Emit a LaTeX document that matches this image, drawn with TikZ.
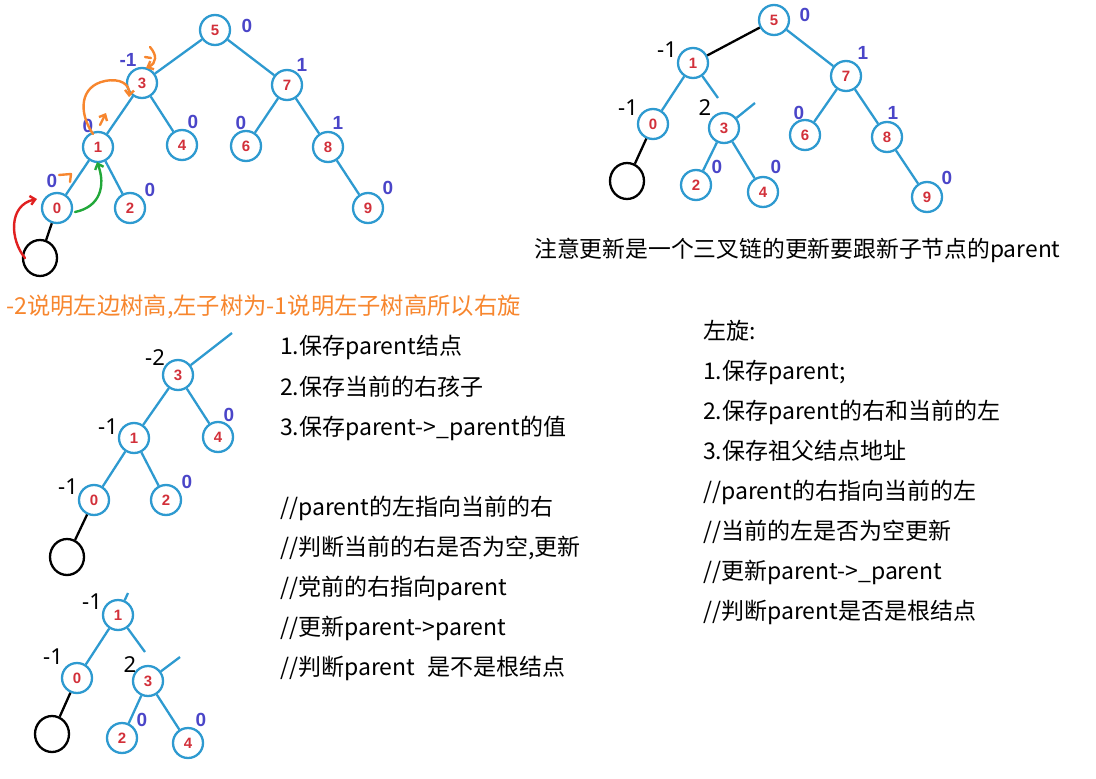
\documentclass[tikz,border=0pt]{standalone}
\usepackage{fontspec}
\newfontfamily\cjk{Noto Sans CJK SC}
\newfontfamily\numf{Liberation Sans}
\newfontfamily\lblf{Noto Sans}
\usetikzlibrary{arrows.meta,shapes.geometric}
\definecolor{nodeblue}{HTML}{2E9AD0}
\definecolor{numred}{HTML}{D2303A}
\definecolor{balblue}{HTML}{4A45C8}
\definecolor{anno}{HTML}{F7862E}
\definecolor{grn}{HTML}{22A83A}
\definecolor{rd}{HTML}{E02020}
\begin{document}
\begin{tikzpicture}[x=1pt,y=-1pt,
  tn/.style={circle,draw=nodeblue,line width=2.3pt,minimum size=30pt,inner sep=0pt,
    font=\numf\bfseries\fontsize{15}{15}\selectfont,text=numred},
  bal/.style={font=\numf\bfseries\fontsize{19}{19}\selectfont,text=balblue,inner sep=0pt},
  blk/.style={font=\lblf\fontsize{22}{22}\selectfont,inner sep=0pt},
  tedge/.style={draw=nodeblue,line width=2.3pt},
  bedge/.style={draw=black,line width=2.3pt},
  nil/.style={ellipse,draw=black,line width=2.3pt,minimum width=34pt,minimum height=36pt,inner sep=0pt},
  txt/.style={anchor=base west,inner sep=0pt,font=\cjk\fontsize{23}{23}\selectfont},
  hand/.style={line width=2.4pt,line cap=round,line join=round,-{Straight Barb[length=5pt,width=9pt]}}
]
\useasboundingbox (0,0) rectangle (1096,779);

% ---------- top-left tree ----------
\node[tn] (a5) at (215,30) {5};
\node[tn] (a3) at (142,83) {3};
\node[tn] (a7) at (287,85) {7};
\node[tn] (a1) at (98,147) {1};
\node[tn] (a4) at (182,145) {4};
\node[tn] (a6) at (246,146) {6};
\node[tn] (a8) at (328,147) {8};
\node[tn] (a0) at (57,208) {0};
\node[tn] (a2) at (130,208) {2};
\node[tn] (a9) at (368,208) {9};
\node[nil] (anil) at (40,258) {};
\draw[tedge] (a5)--(a3) (a5)--(a7) (a3)--(a1) (a3)--(a4) (a7)--(a6) (a7)--(a8)
  (a1)--(a0) (a1)--(a2) (a8)--(a9);
\draw[bedge] (a0)--(anil);
\node[bal] (la5) at (247,26) {0};
\node[bal] (la3) at (128,60) {-1};
\node[bal] (la7) at (302,65) {1};
\node[bal] (la1) at (88,126) {0};
\node[bal] (la4) at (193,122) {0};
\node[bal] (la6) at (241,123) {0};
\node[bal] (la8) at (338,123) {1};
\node[bal] (la0) at (52,181) {0};
\node[bal] (la2) at (150,190) {0};
\node[bal] (la9) at (388,188) {0};
% hand annotations
\coordinate (o1s) at (93,134);
\coordinate (o1e) at (129,97);
\draw[hand,draw=anno] (o1s) .. controls (78,112) and (80,86) .. (105,81) .. controls (120,78) and (130,84) .. (o1e);
\coordinate (o2s) at (150,47);
\coordinate (o2e) at (146,68);
\draw[line width=2.4pt,line cap=round,draw=anno] (145,57)--(151,58);
\draw[hand,draw=anno] (o2s) .. controls (157,55) and (157,63) .. (o2e);
\coordinate (o3s) at (100,125);
\coordinate (o3e) at (106,113);
\draw[hand,draw=anno] (o3s)--(o3e);
\draw[line width=2.4pt,line cap=round,line join=round,draw=anno] (59,175)--(71,174)--(70,182);
\coordinate (rs) at (25,258);
\coordinate (re) at (37,199);
\draw[hand,draw=rd] (rs) .. controls (10,240) and (8,205) .. (re);
\coordinate (gs) at (75,212);
\coordinate (ge) at (97,162);
\draw[hand,draw=grn] (gs) .. controls (100,207) and (106,186) .. (ge);

% ---------- top-right tree ----------
\node[tn] (b5) at (774,20) {5};
\node[tn] (b1) at (693,63) {1};
\node[tn] (b7) at (846,76) {7};
\node[tn] (b0) at (653,124) {0};
\node[tn] (b3) at (724,128) {3};
\node[tn] (b6) at (805,135) {6};
\node[tn] (b8) at (887,137) {8};
\node[tn] (b2) at (696,185) {2};
\node[tn] (b4) at (763,192) {4};
\node[tn] (b9) at (927,197) {9};
\node[nil] (bnil) at (627,181) {};
\coordinate (b13) at (718,98);
\coordinate (b3p) at (755,103);
\draw[tedge] (b5)--(b7) (b7)--(b6) (b7)--(b8) (b8)--(b9) (b1)--(b0) (b1)--(b13)
  (b3)--(b3p) (b3)--(b2) (b3)--(b4);
\draw[bedge] (b5)--(b1);
\draw[bedge] (b0)--(bnil);
\node[bal] (lb5) at (805,15) {0};
\node[bal] (lb7) at (863,53) {1};
\node[blk] (lb1) at (667,50) {-1};
\node[blk] (lb0) at (628,108) {-1};
\node[blk] (lb3) at (705,108) {2};
\node[bal] (lb6) at (799,113) {0};
\node[bal] (lb8) at (893,113) {1};
\node[bal] (lb2) at (717,167) {0};
\node[bal] (lb4) at (776,167) {0};
\node[bal] (lb9) at (947,178) {0};

% ---------- bottom tree 1 ----------
\node[tn] (c3) at (178,375) {3};
\node[tn] (c1) at (134,438) {1};
\node[tn] (c4) at (218,437) {4};
\node[tn] (c0) at (94,500) {0};
\node[tn] (c2) at (166,500) {2};
\node[nil] (cnil) at (67,557) {};
\coordinate (c3p) at (232,333);
\draw[tedge] (c3)--(c3p) (c3)--(c1) (c3)--(c4) (c1)--(c0) (c1)--(c2);
\draw[bedge] (c0)--(cnil);
\node[blk] (lc3) at (155,358) {-2};
\node[blk] (lc1) at (108,427) {-1};
\node[bal] (lc4) at (229,415) {0};
\node[blk] (lc0) at (68,487) {-1};
\node[bal] (lc2) at (187,482) {0};

% ---------- bottom tree 2 ----------
\node[tn] (d1) at (118,615) {1};
\node[tn] (d0) at (77,678) {0};
\node[tn] (d3) at (148,681) {3};
\node[tn] (d2) at (122,738) {2};
\node[tn] (d4) at (188,743) {4};
\node[nil] (dnil) at (52,734) {};
\coordinate (d1p) at (128,593);
\coordinate (d13) at (145,652);
\coordinate (d3p) at (180,657);
\draw[tedge] (d1)--(d1p) (d1)--(d0) (d1)--(d13) (d3)--(d3p) (d3)--(d2) (d3)--(d4);
\draw[bedge] (d0)--(dnil);
\node[blk] (ld1) at (92,602) {-1};
\node[blk] (ld0) at (53,657) {-1};
\node[blk] (ld3) at (130,665) {2};
\node[bal] (ld2) at (142,720) {0};
\node[bal] (ld4) at (201,720) {0};

% ---------- texts ----------
\node[txt,font=\cjk\fontsize{22.8}{22.8}\selectfont] (note) at (534,257.5) {注意更新是一个三叉链的更新要跟新子节点的parent};
\node[txt,text=anno,font=\cjk\fontsize{23.3}{23.3}\selectfont] (why) at (6,314) {-2说明左边树高,左子树为-1说明左子树高所以右旋};

\node[txt] (l1) at (280,354) {1.保存parent结点};
\node[txt] (l2) at (280,395) {2.保存当前的右孩子};
\node[txt] (l3) at (280,435) {3.保存parent->\_parent的值};
\node[txt] (l4) at (280,515) {//parent的左指向当前的右};
\node[txt] (l5) at (280,555) {//判断当前的右是否为空,更新};
\node[txt] (l6) at (280,595) {//党前的右指向parent};
\node[txt] (l7) at (280,635) {//更新parent->parent};
\node[txt] (l8) at (280,675) {//判断parent\hspace{12pt}是不是根结点};

\node[txt] (r0) at (703,339) {左旋:};
\node[txt] (r1) at (703,379) {1.保存parent;};
\node[txt] (r2) at (703,419) {2.保存parent的右和当前的左};
\node[txt] (r3) at (703,459) {3.保存祖父结点地址};
\node[txt] (r4) at (703,499) {//parent的右指向当前的左};
\node[txt] (r5) at (703,539) {//当前的左是否为空更新};
\node[txt] (r6) at (703,579) {//更新parent->\_parent};
\node[txt] (r7) at (703,619) {//判断parent是否是根结点};
\end{tikzpicture}
\end{document}
